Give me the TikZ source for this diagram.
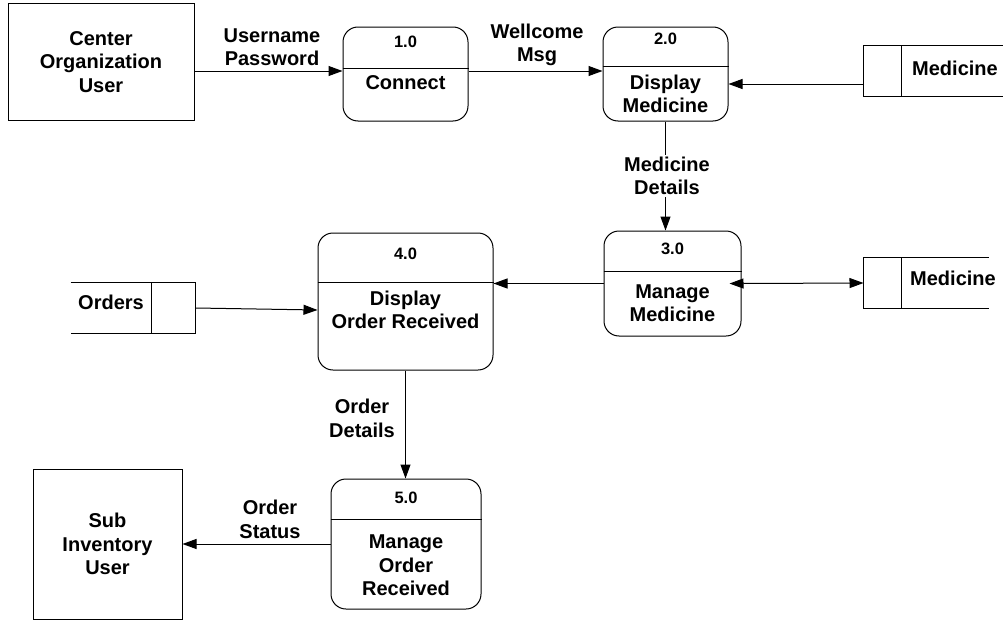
\documentclass[tikz,border=0pt]{standalone}
\usepackage{fontspec}
\setmainfont{Liberation Sans}
\usetikzlibrary{arrows.meta,calc}
\newcommand\mainf{\fontsize{20}{23.5}\selectfont\bfseries}
\newcommand\numf{\fontsize{16.5}{19}\selectfont\bfseries}
\tikzset{
  every path/.style={line width=1pt},
  proc/.style={draw, rounded corners=15pt, inner sep=0pt},
  entity/.style={draw, inner sep=0pt},
  storebox/.style={draw=none, inner sep=0pt, minimum height=50pt},
  lbl/.style={font=\mainf, align=center, inner sep=0pt},
  num/.style={font=\numf, inner sep=0pt},
  flow/.style={-{Triangle[length=14pt,width=10pt]}},
  bothflow/.style={{Triangle[length=14pt,width=10pt]}-{Triangle[length=14pt,width=10pt]}},
}
\begin{document}
\begin{tikzpicture}[x=1pt, y=-1pt]
\useasboundingbox (0,0) rectangle (1005,621);

% external entities
\node[entity, minimum width=186pt, minimum height=117pt] (ce) at (101,61.5) {};
\node[lbl] (cet) at (101,62) {Center\\Organization\\User};
\node[entity, minimum width=149pt, minimum height=150pt] (su) at (107.5,544) {};
\node[lbl] (sut) at (107.5,544) {Sub\\Inventory\\User};

% processes
\node[proc, minimum width=125pt, minimum height=94pt] (p1) at (405.5,74) {};
\draw (p1.west |- 0,68) -- (p1.east |- 0,68);
\node[num] (p1n) at (405.5,42) {1.0};
\node[lbl] (p1t) at (405.5,83) {Connect};

\node[proc, minimum width=125pt, minimum height=94pt] (p2) at (665.5,74) {};
\draw (p2.west |- 0,66) -- (p2.east |- 0,66);
\node[num] (p2n) at (665.5,39) {2.0};
\node[lbl] (p2t) at (665.5,94) {Display\\Medicine};

\node[proc, minimum width=137pt, minimum height=105pt] (p3) at (672.5,283.5) {};
\draw (p3.west |- 0,271) -- (p3.east |- 0,271);
\node[num] (p3n) at (672.5,249) {3.0};
\node[lbl] (p3t) at (672.5,303) {Manage\\Medicine};

\node[proc, minimum width=175pt, minimum height=137pt] (p4) at (405.5,301.5) {};
\draw (p4.west |- 0,282) -- (p4.east |- 0,282);
\node[num] (p4n) at (405.5,254) {4.0};
\node[lbl] (p4t) at (405.5,310) {Display\\Order Received};

\node[proc, minimum width=150pt, minimum height=130pt] (p5) at (406,544) {};
\draw (p5.west |- 0,519) -- (p5.east |- 0,519);
\node[num] (p5n) at (406,498) {5.0};
\node[lbl] (p5t) at (406,565.5) {Manage\\Order\\Received};

% data stores (open-ended)
\node[storebox, minimum width=138pt] (ms1) at (933,71) {};
\draw (ms1.north east) -- (ms1.north west) -- (ms1.south west) -- (ms1.south east);
\draw ($(ms1.north west)+(38,0)$) -- ($(ms1.south west)+(38,0)$);
\node[lbl] (ms1t) at (955,68) {Medicine};

\node[storebox, minimum width=124pt] (ms2) at (926,283) {};
\draw (ms2.north east) -- (ms2.north west) -- (ms2.south west) -- (ms2.south east);
\draw ($(ms2.north west)+(38,0)$) -- ($(ms2.south west)+(38,0)$);
\node[lbl] (ms2t) at (953,278) {Medicine};

\node[storebox, minimum width=124pt] (os) at (133,308) {};
\draw (os.north west) -- (os.north east) -- (os.south east) -- (os.south west);
\draw ($(os.north east)+(-44,0)$) -- ($(os.south east)+(-44,0)$);
\node[lbl] (ost) at (111,302) {Orders};

% data flows
\coordinate (p1in) at ($(p1.west)+(0,-3)$);
\coordinate (p1out) at ($(p1.east)+(0,-3)$);
\coordinate (p2in) at ($(p2.west)+(0,-3)$);
\coordinate (p2x) at ($(p2.east)+(0,10)$);
\coordinate (p4in) at ($(p4.west)+(0,8.5)$);

\draw[flow] (ce.east |- p1in) -- (p1in);
\node[lbl] (l1) at (272,47) {Username\\Password};

\draw[flow] (p1out) -- (p2in);
\node[lbl] (l2) at (537,45) {Wellcome\\Msg};

\draw[flow] (ms1.west |- p2x) -- (p2x);

\draw[flow] (p2.south) -- (p2.south |- p3.north);
\node[lbl, fill=white, inner ysep=2pt] (l3) at (667,176) {Medicine\\Details};

\draw[flow] (p3.west) -- (p3.west -| p4.east);
\draw[bothflow, shorten <=-12pt] (p3.east) -- (ms2.west);

\draw[flow] (os.east) -- (p4in);

\draw[flow] (p4.south) -- (p4.south |- p5.north);
\node[lbl] (l4) at (362,418.5) {Order\\Details};

\draw[flow] (p5.west) -- (su.east);
\node[lbl] (l5) at (270,519.5) {Order\\Status};
\end{tikzpicture}
\end{document}
